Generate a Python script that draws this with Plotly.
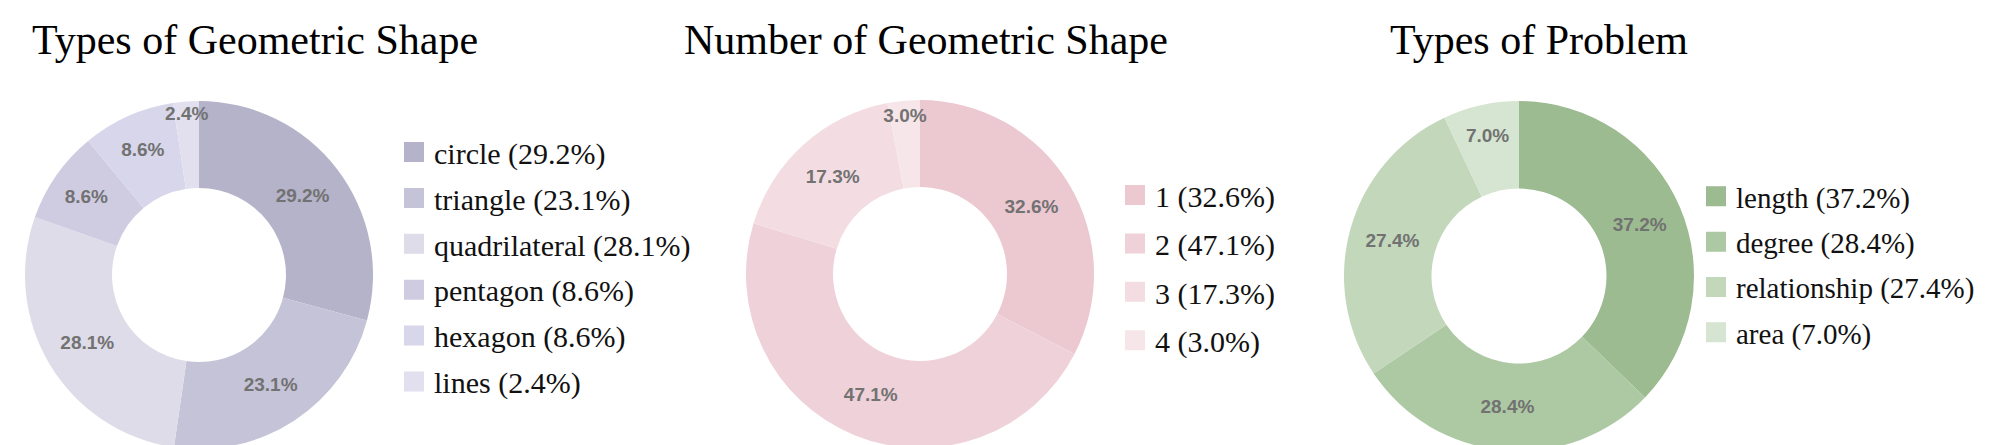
import plotly.graph_objects as go

W, H = 1989, 445

# ---- data ----
shape_types = ["circle", "triangle", "quadrilateral", "pentagon", "hexagon", "lines"]
shape_type_pct = [29.2, 23.1, 28.1, 8.6, 8.6, 2.4]

shape_counts = ["1", "2", "3", "4"]
shape_count_pct = [32.6, 47.1, 17.3, 3.0]

problem_types = ["length", "degree", "relationship", "area"]
problem_type_pct = [37.2, 28.4, 27.4, 7.0]

titles = ["Types of Geometric Shape", "Number of Geometric Shape", "Types of Problem"]

# ---- style ----
colors1 = ["#b5b3c9", "#c5c3d7", "#dddce8", "#cfcce2", "#d8d6ea", "#e2e0ee"]
colors2 = ["#ecc8d1", "#efd1da", "#f3dde2", "#f6e6ea"]
colors3 = ["#9cbb90", "#adc9a3", "#c3d7bb", "#d6e5d1"]

SERIF = "Liberation Serif, Times New Roman, serif"
SANS = "Liberation Sans, Arial, sans-serif"
LABEL_COLOR = "#727272"


def px_x(v):
    return v / W


def px_y(v):
    return 1 - v / H


# donut placement in pixels: (left, right, top, bottom)
donut_boxes = [(17, 365, 93, 441), (738, 1086, 92, 440), (1336, 1686, 93, 443)]
legend_pos = [(386, 118), (1107, 161), (1688, 163)]
legend_font = [30, 30, 29]
legend_gap = [3.9, 6.4, 4.6]
title_left = [22, 674, 1380]

datasets = [
    (shape_types, shape_type_pct, colors1),
    (shape_counts, shape_count_pct, colors2),
    (problem_types, problem_type_pct, colors3),
]

fig = go.Figure()
legend_names = ["legend", "legend2", "legend3"]

for i, (cats, vals, cols) in enumerate(datasets):
    l, r, t, b = donut_boxes[i]
    fig.add_trace(go.Pie(
        labels=cats,
        values=vals,
        text=[f"{v:.1f}%" for v in vals],
        textinfo="text",
        textposition="inside",
        insidetextorientation="horizontal",
        hole=0.5,
        sort=False,
        direction="clockwise",
        rotation=0,
        marker=dict(colors=cols, line=dict(width=0)),
        textfont=dict(family=SANS, size=19, color=LABEL_COLOR, weight="bold"),
        domain=dict(x=[px_x(l), px_x(r)], y=[px_y(b), px_y(t)]),
        showlegend=False,
        hoverinfo="label+percent",
    ))
    # legend entries (one per category, square swatches)
    for c, v, col in zip(cats, vals, cols):
        fig.add_trace(go.Scatter(
            x=[None], y=[None], mode="markers",
            marker=dict(symbol="square", size=16, color=col,
                        line=dict(width=4, color=col)),
            name=f"{c} ({v:.1f}%)",
            legend=legend_names[i],
            legendgroup=f"{i}-{c}",
            showlegend=True,
        ))

layout_legends = {}
for i, name in enumerate(legend_names):
    lx, ly = legend_pos[i]
    layout_legends[name] = dict(
        font=dict(family=SERIF, size=legend_font[i], color="#111111"),
        bgcolor="rgba(0,0,0,0)",
        borderwidth=0,
        xanchor="left",
        yanchor="top",
        itemclick=False,
        itemdoubleclick=False,
        x=px_x(lx), y=px_y(ly),
        tracegroupgap=legend_gap[i],
    )

annotations = []
for i, ttl in enumerate(titles):
    annotations.append(dict(
        text=ttl, x=px_x(title_left[i]), y=px_y(32),
        xref="paper", yref="paper", xanchor="left", yanchor="middle",
        showarrow=False,
        font=dict(family=SERIF, size=42, color="#000000"),
    ))

fig.update_layout(
    width=W, height=H,
    margin=dict(l=0, r=0, t=0, b=0),
    paper_bgcolor="white",
    plot_bgcolor="white",
    xaxis=dict(visible=False),
    yaxis=dict(visible=False),
    annotations=annotations,
    uniformtext=dict(minsize=19, mode="show"),
    **layout_legends,
)

fig.write_html("out.html")
